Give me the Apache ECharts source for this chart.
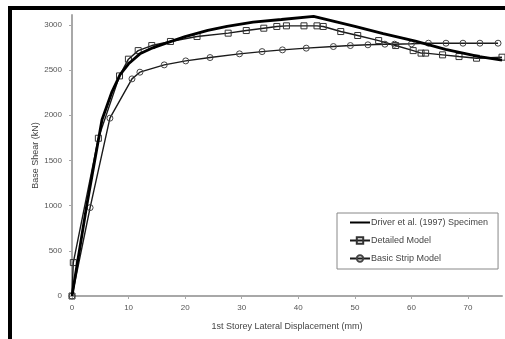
<!DOCTYPE html>
<html>
<head>
<meta charset="utf-8">
<script src="https://cdn.jsdelivr.net/npm/echarts@6/dist/echarts.min.js"></script>
<style>html,body{margin:0;padding:0;background:#fff}#c{width:505px;height:339px}</style>
</head>
<body>
<div id="c"></div>
<script>
var seriesNames = ['Driver et al. (1997) Specimen', 'Detailed Model', 'Basic Strip Model'];
var xTicks = [0, 10, 20, 30, 40, 50, 60, 70];
var yTicks = [0, 500, 1000, 1500, 2000, 2500, 3000];

var driverX = [0, 2.6, 5.3, 7, 8.5, 10, 12, 14, 17.4, 20, 24, 27.4, 32, 37, 42.7, 50, 55, 60.7, 66, 72, 76];
var driverY = [0, 1000, 1950, 2250, 2450, 2570, 2680, 2740, 2815, 2870, 2940, 2985, 3030, 3060, 3095, 2985, 2905, 2820, 2730, 2650, 2610];

var detailedX = [0, 0.23, 4.66, 8.4, 9.97, 11.7, 14.1, 17.4, 22.1, 27.6, 30.8, 33.9, 36.2, 37.9, 41.0, 43.3, 44.4, 47.5, 50.5, 54.2, 57.2, 60.3, 61.7, 62.5, 65.5, 68.4, 71.5, 76];
var detailedY = [0, 370, 1746, 2436, 2621, 2716, 2772, 2817, 2872, 2909, 2938, 2964, 2983, 2990, 2990, 2990, 2983, 2927, 2883, 2827, 2772, 2716, 2688, 2688, 2669, 2650, 2632, 2643];

var basicX = [0, 3.2, 6.7, 10.6, 12.0, 16.3, 20.1, 24.4, 29.6, 33.6, 37.2, 41.4, 46.2, 49.2, 52.3, 55.3, 57.0, 60.0, 63.0, 66.1, 69.1, 72.1, 75.3];
var basicY = [0, 978, 1968, 2403, 2477, 2558, 2602, 2639, 2680, 2705, 2724, 2743, 2761, 2772, 2780, 2787, 2787, 2791, 2798, 2798, 2798, 2798, 2798];

function pairs(xs, ys) { return xs.map(function (x, i) { return [x, ys[i]]; }); }

var chart = echarts.init(document.getElementById('c'), null, {renderer: 'canvas'});
var axisColor = '#a8a8a8';
var labelColor = '#555';
var fontFam = 'Liberation Sans, Arial';
chart.setOption({
  animation: false,
  backgroundColor: '#fff',
  grid: {left: 72, right: 3, top: 15, bottom: 43, containLabel: false},
  xAxis: {
    type: 'value', min: 0, max: 76,
    name: '1st Storey Lateral Displacement (mm)', nameLocation: 'middle', nameGap: 26,
    nameTextStyle: {fontFamily: fontFam, fontSize: 9, color: '#444'},
    axisLine: {show: true, lineStyle: {color: axisColor, width: 2}},
    axisTick: {show: true, length: 3, lineStyle: {color: axisColor}, customValues: xTicks},
    axisLabel: {fontFamily: fontFam, fontSize: 8, color: labelColor, margin: 8, customValues: xTicks,
      formatter: function (v) { return String(v); }},
    splitLine: {show: false}
  },
  yAxis: {
    type: 'value', min: 0, max: 3110,
    name: 'Base Shear (kN)', nameLocation: 'middle', nameGap: 32, nameRotate: 90,
    nameMoveOverlap: false,
    nameTextStyle: {fontFamily: fontFam, fontSize: 9, color: '#444'},
    axisLine: {show: true, lineStyle: {color: axisColor, width: 2}},
    axisTick: {show: true, length: 3, lineStyle: {color: axisColor}, customValues: yTicks},
    axisLabel: {fontFamily: fontFam, fontSize: 8, color: labelColor, margin: 10, customValues: yTicks,
      formatter: function (v) { return String(v); }},
    splitLine: {show: false}
  },
  legend: {
    orient: 'vertical', left: 337, top: 213,
    padding: [5, 10, 6, 12],
    itemGap: 9, itemWidth: 20, itemHeight: 8,
    borderColor: '#888', borderWidth: 1, backgroundColor: '#fff',
    textStyle: {fontFamily: fontFam, fontSize: 9, color: '#444', padding: [0, 0, 0, -4]},
    data: [
      {name: seriesNames[0], itemStyle: {opacity: 0}},
      {name: seriesNames[1]},
      {name: seriesNames[2]}
    ]
  },
  series: [
    {
      name: seriesNames[0], type: 'line', data: pairs(driverX, driverY),
      showSymbol: false, symbol: 'none',
      lineStyle: {color: '#000', width: 2.8}, itemStyle: {color: '#000'}, z: 3
    },
    {
      name: seriesNames[1], type: 'line', data: pairs(detailedX, detailedY),
      symbol: 'rect', symbolSize: 6, showSymbol: true,
      lineStyle: {color: '#1a1a1a', width: 1.4},
      itemStyle: {color: 'rgba(255,255,255,0)', borderColor: '#333', borderWidth: 1},
      z: 2
    },
    {
      name: seriesNames[2], type: 'line', data: pairs(basicX, basicY),
      symbol: 'circle', symbolSize: 6, showSymbol: true,
      lineStyle: {color: '#1a1a1a', width: 1.4},
      itemStyle: {color: 'rgba(255,255,255,0)', borderColor: '#444', borderWidth: 1},
      z: 2
    }
  ],
  graphic: [
    {type: 'rect', left: 8, top: 6, shape: {width: 497, height: 4}, style: {fill: '#000'}, z: 100},
    {type: 'rect', left: 8, top: 6, shape: {width: 4, height: 333}, style: {fill: '#000'}, z: 100}
  ]
});
</script>
</body>
</html>
